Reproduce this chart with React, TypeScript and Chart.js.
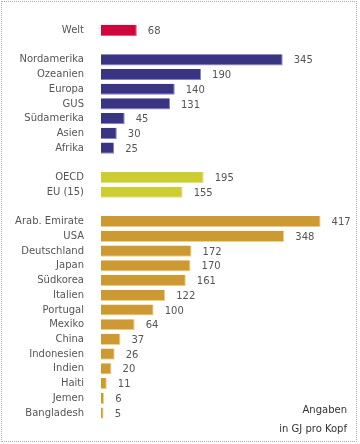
import React, { useEffect, useRef } from "react";
import { Chart, registerables } from "chart.js";

Chart.register(...registerables);

const categories: string[] = [
  "Welt", "",
  "Nordamerika", "Ozeanien", "Europa", "GUS", "Südamerika", "Asien", "Afrika", "",
  "OECD", "EU (15)", "",
  "Arab. Emirate", "USA", "Deutschland", "Japan", "Südkorea", "Italien", "Portugal",
  "Mexiko", "China", "Indonesien", "Indien", "Haiti", "Jemen", "Bangladesh",
];

const values: (number | null)[] = [
  68, null,
  345, 190, 140, 131, 45, 30, 25, null,
  195, 155, null,
  417, 348, 172, 170, 161, 122, 100, 64, 37, 26, 20, 11, 6, 5,
];

const groups: string[] = [
  "welt", "",
  "region", "region", "region", "region", "region", "region", "region", "",
  "bund", "bund", "",
  "land", "land", "land", "land", "land", "land", "land", "land", "land", "land", "land", "land", "land", "land",
];

const fillColors: Record<string, string> = {
  welt: "#d0073c",
  region: "#3a3583",
  bund: "#cccc33",
  land: "#cc9933",
  "": "transparent",
};
const edgeColors: Record<string, string> = {
  welt: "#e85a78",
  region: "#8884c0",
  bund: "#e0e080",
  land: "#f0d38a",
  "": "transparent",
};

const FONT = "'DejaVu Sans', Verdana, sans-serif";

export default function App() {
  const ref = useRef<HTMLCanvasElement | null>(null);

  useEffect(() => {
    document.body.style.margin = "0";
    const canvas = ref.current;
    if (!canvas) return;

    const valueLabels = {
      id: "valueLabels",
      afterDatasetsDraw(chart: any) {
        const ctx = chart.ctx;
        const meta = chart.getDatasetMeta(0);
        ctx.save();
        ctx.font = `10px ${FONT}`;
        ctx.fillStyle = "#555555";
        ctx.textAlign = "left";
        ctx.textBaseline = "middle";
        meta.data.forEach((bar: any, i: number) => {
          const v = values[i];
          if (v === null || v === undefined) return;
          ctx.fillText(String(v), bar.x + 11, bar.y + 1);
        });
        ctx.restore();
      },
    };

    const chart = new Chart(canvas, {
      type: "bar",
      data: {
        labels: categories,
        datasets: [
          {
            data: values as any,
            backgroundColor: groups.map((g) => fillColors[g]),
            borderColor: groups.map((g) => edgeColors[g]),
            borderWidth: { top: 0, left: 0, right: 1, bottom: 1 } as any,
            borderSkipped: false,
            barPercentage: 0.76,
            categoryPercentage: 1,
          },
        ],
      },
      options: {
        indexAxis: "y",
        animation: false,
        responsive: false,
        maintainAspectRatio: false,
        layout: { padding: { left: 0, right: 22, top: 19.6, bottom: 23.6 } },
        plugins: {
          legend: { display: false },
          tooltip: { enabled: false },
        },
        scales: {
          x: {
            display: false,
            min: 0,
            max: 450,
          },
          y: {
            grid: { display: false, drawTicks: false },
            border: { display: false },
            ticks: {
              padding: 17,
              color: "#555555",
              font: { family: FONT, size: 10 },
              autoSkip: false,
            },
            afterFit: (scale: any) => {
              scale.width = 101;
            },
          },
        },
      },
      plugins: [valueLabels],
    });
    return () => chart.destroy();
  }, []);

  return (
    <div style={{ position: "relative", width: 360, height: 444, fontFamily: FONT }}>
      <div
        style={{
          position: "absolute",
          left: 1,
          top: 1,
          width: 356,
          height: 441,
          border: "1px dotted #aaaaaa",
          boxSizing: "border-box",
        }}
      />
      <canvas
        ref={ref}
        width={360}
        height={444}
        style={{ position: "absolute", left: 0, top: 0, width: 360, height: 444 }}
      />
      <div
        style={{
          position: "absolute",
          right: 13,
          top: 400,
          textAlign: "right",
          fontSize: 10,
          lineHeight: "19px",
          color: "#333333",
        }}
      >
        Angaben
        <br />
        in GJ pro Kopf
      </div>
    </div>
  );
}
